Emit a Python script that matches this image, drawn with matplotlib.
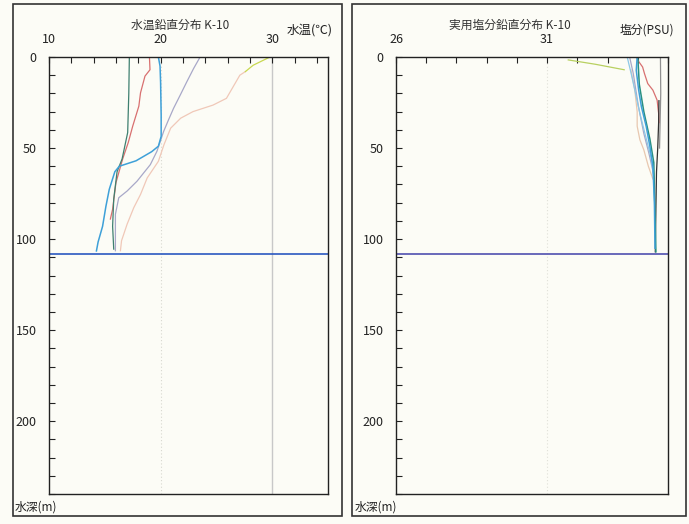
import matplotlib
matplotlib.use("Agg")
import matplotlib.pyplot as plt
from matplotlib.patches import Rectangle
from matplotlib.ticker import FixedLocator, FuncFormatter

plt.rcParams['font.family'] = ['Noto Sans CJK JP', 'DejaVu Sans']

# ---------------- data ----------------
# Temperature profiles (°C) vs depth (m)
t_teal_depth = [0, 20, 41.5, 56, 63, 78, 93, 105.5]
t_teal_val = [17.2, 17.15, 17.05, 16.55, 16.1, 15.8, 15.7, 15.8]

t_red_depth = [0, 7, 10.5, 19.7, 27, 38, 47, 56, 69, 83.6, 89]
t_red_val = [19.0, 19.05, 18.6, 18.2, 18.05, 17.5, 17.1, 16.6, 16.0, 15.7, 15.5]

t_blue_depth = [0, 5, 14, 32, 43.6, 49, 52, 57, 60, 63, 72.7, 82, 93, 101.6, 106.5]
t_blue_val = [19.8, 19.95, 20.0, 20.05, 20.05, 19.8, 19.2, 17.8, 16.3, 15.9, 15.4, 15.1, 14.8, 14.4, 14.25]

t_lav_depth = [0, 6.4, 13.6, 20.9, 28.2, 34.5, 40.9, 51.8, 59.1, 68.2, 73.6, 77.3, 86.4, 106.4]
t_lav_val = [23.54, 22.95, 22.35, 21.76, 21.16, 20.71, 20.27, 19.67, 19.08, 17.89, 17.0, 16.25, 15.95, 15.95]

t_ygreen_depth = [0, 4.5, 8]
t_ygreen_val = [29.8, 28.3, 27.6]

t_peach_depth = [8, 10, 22.7, 26.4, 30, 33.6, 39.1, 48.2, 57.3, 66.4, 75.5, 82.7, 91.8, 100.9, 106.4]
t_peach_val = [27.6, 27.1, 25.9, 24.7, 22.9, 21.8, 20.9, 20.3, 19.8, 18.8, 18.2, 17.6, 17.0, 16.5, 16.4]

# Salinity profiles (PSU) vs depth (m)
s_gray_depth = [0, 20, 35, 50]
s_gray_val = [34.75, 34.76, 34.74, 34.72]

s_black_depth = [24, 36, 50, 63, 82, 107]
s_black_val = [34.7, 34.69, 34.66, 34.62, 34.6, 34.58]

s_red_depth = [0, 1.8, 5.5, 9, 14.6, 18.2, 23.7, 31, 36]
s_red_val = [33.97, 34.0, 34.16, 34.22, 34.33, 34.5, 34.64, 34.69, 34.7]

s_teal_depth = [0, 15, 30, 45, 58, 80, 107]
s_teal_val = [34.0, 34.05, 34.2, 34.4, 34.53, 34.56, 34.6]

s_lblue_depth = [0, 9, 18, 31, 45.5, 56, 67]
s_lblue_val = [33.65, 33.78, 33.9, 34.07, 34.29, 34.45, 34.54]

s_lav_depth = [0, 9, 27, 42, 53, 64]
s_lav_val = [33.73, 33.85, 34.02, 34.2, 34.37, 34.52]

s_blue_depth = [0, 7.3, 18.2, 27.3, 38.2, 49, 60, 80, 105]
s_blue_val = [33.98, 33.95, 34.03, 34.12, 34.28, 34.4, 34.5, 34.55, 34.57]

s_ygreen_depth = [1.6, 4, 7]
s_ygreen_val = [31.7, 32.6, 33.55]

s_peach_depth = [7, 18, 30, 38, 45.5, 51, 60, 67]
s_peach_val = [33.77, 33.9, 33.98, 33.98, 34.07, 34.2, 34.35, 34.5]

bottom_depth = 108

t_major = [10, 20, 30]
s_major = [26, 31]
depth_labels = [0, 50, 100, 150, 200]

# ---------------- figure ----------------
bg = '#fcfcf6'
fig = plt.figure(figsize=(6.89, 5.24), dpi=100, facecolor=bg)
W, H = 689, 524

def fx(px):
    return px / W

def fy(py):
    return 1 - py / H

# outer frames
for x0, x1 in [(13, 342), (352, 686)]:
    fig.patches.append(Rectangle((fx(x0), fy(516)), fx(x1) - fx(x0), fy(4) - fy(516),
                                 transform=fig.transFigure, fill=False,
                                 edgecolor='#333333', linewidth=1.2))

axT = fig.add_axes([fx(49), fy(494), fx(328) - fx(49), fy(57) - fy(494)], facecolor=bg)
axS = fig.add_axes([fx(396), fy(494), fx(668) - fx(396), fy(57) - fy(494)], facecolor=bg)

lw = 0.9
# temperature
axT.axvline(30, color='#c8c8c8', lw=1.0, zorder=1)
axT.axvline(20, color='#d8d8d0', lw=0.8, ls=(0, (1, 2)), zorder=1)
axT.plot(t_peach_val, t_peach_depth, color='#f0c8b8', lw=lw)
axT.plot(t_ygreen_val, t_ygreen_depth, color='#c8d850', lw=lw)
axT.plot(t_lav_val, t_lav_depth, color='#a8a8c8', lw=lw)
axT.plot(t_red_val, t_red_depth, color='#d87070', lw=lw)
axT.plot(t_teal_val, t_teal_depth, color='#3f8070', lw=lw)
axT.plot(t_blue_val, t_blue_depth, color='#3ea0d8', lw=1.1)
axT.axhline(bottom_depth, color='#2a58c0', lw=1.2)

# salinity
axS.axvline(31, color='#e0e0d8', lw=0.8, ls=(0, (1, 2)), zorder=1)
axS.plot(s_peach_val, s_peach_depth, color='#e8c8b0', lw=lw)
axS.plot(s_ygreen_val, s_ygreen_depth, color='#b8d060', lw=lw)
axS.plot(s_lav_val, s_lav_depth, color='#a8a8c8', lw=lw)
axS.plot(s_lblue_val, s_lblue_depth, color='#8cc8e8', lw=lw)
axS.plot(s_gray_val, s_gray_depth, color='#909090', lw=lw)
axS.plot(s_red_val, s_red_depth, color='#d87070', lw=lw)
axS.plot(s_black_val, s_black_depth, color='#303030', lw=lw)
axS.plot(s_teal_val, s_teal_depth, color='#2a9080', lw=1.1)
axS.plot(s_blue_val, s_blue_depth, color='#3ea0d8', lw=1.1)
axS.axhline(bottom_depth, color='#5050b0', lw=1.2)

def style(ax, xlim, step, majors):
    ax.set_xlim(*xlim)
    ax.set_ylim(240, 0)
    ax.xaxis.tick_top()
    xt = list(range(xlim[0], xlim[1] + 1, step))
    ax.xaxis.set_major_locator(FixedLocator(xt))
    ax.xaxis.set_major_formatter(FuncFormatter(lambda v, p: f"{int(round(v))}" if int(round(v)) in majors else ""))
    ax.yaxis.set_major_locator(FixedLocator(list(range(0, 241, 10))))
    ax.yaxis.set_major_formatter(FuncFormatter(lambda v, p: f"{int(round(v))}" if int(round(v)) in depth_labels else ""))
    ax.tick_params(axis='x', direction='in', length=4, width=0.8, pad=8, labelsize=9, colors='#222222', top=True, bottom=False)
    ax.tick_params(axis='y', direction='in', length=4, width=0.8, pad=9, labelsize=9, colors='#222222', left=True, right=False)
    for s in ax.spines.values():
        s.set_color('#222222')
        s.set_linewidth(1.0)

style(axT, (10, 35), 2, t_major)
style(axS, (26, 35), 1, s_major)

# texts
fig.text(fx(180), fy(25), '水温鉛直分布 K-10', ha='center', va='center', fontsize=8.5, color='#333333')
fig.text(fx(333), fy(30), '水温(℃)', ha='right', va='center', fontsize=9, color='#222222')
fig.text(fx(510), fy(25), '実用塩分鉛直分布 K-10', ha='center', va='center', fontsize=8.5, color='#333333')
fig.text(fx(674), fy(30), '塩分(PSU)', ha='right', va='center', fontsize=8.5, color='#222222')
fig.text(fx(15), fy(507), '水深(m)', ha='left', va='center', fontsize=8.5, color='#222222')
fig.text(fx(355), fy(507), '水深(m)', ha='left', va='center', fontsize=8.5, color='#222222')

fig.savefig('out.png', dpi=100, facecolor=bg)
